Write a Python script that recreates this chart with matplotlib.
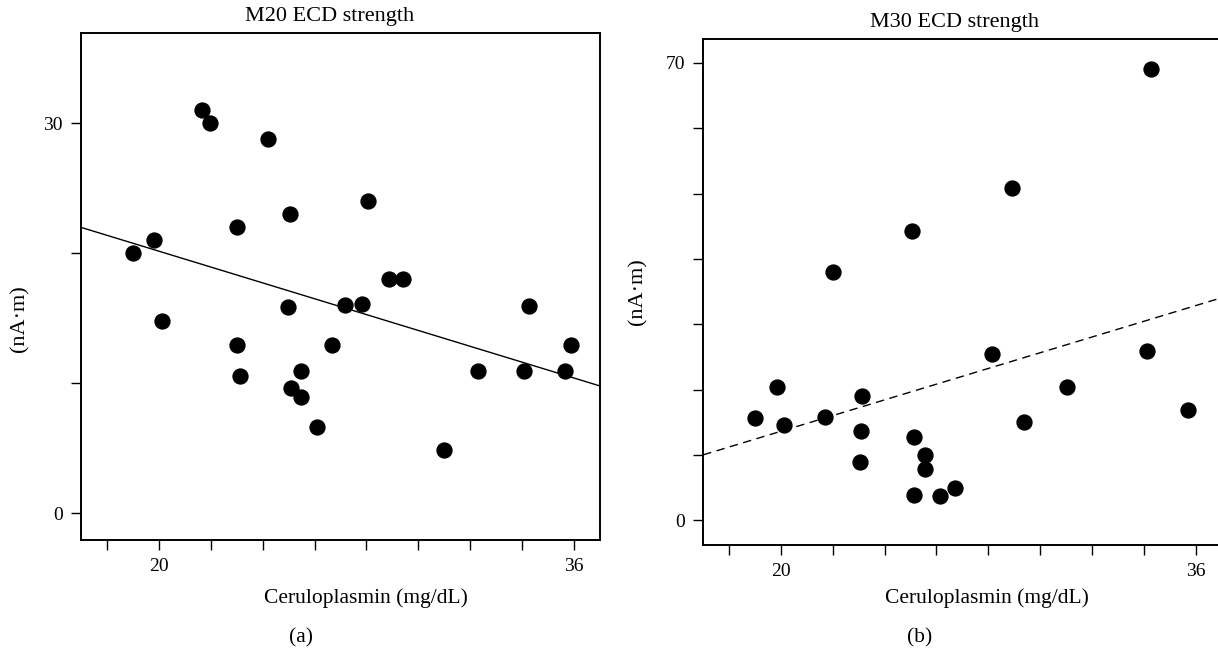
import numpy as np
import matplotlib
matplotlib.use('Agg')
import matplotlib.pyplot as plt

plt.rcParams['font.family'] = ['Liberation Serif', 'DejaVu Serif']

# M20 ECD strength (panel a)
m20_x = [21.68, 21.99, 24.19, 28.07, 25.07, 23.02, 19.81, 19.01, 28.86, 29.42,
         24.98, 27.17, 27.84, 34.28, 20.13, 23.01, 26.69, 35.87, 23.11, 25.49,
         32.29, 34.09, 35.67, 25.09, 25.49, 26.09, 30.99]
m20_y = [31.0, 30.0, 28.8, 24.0, 23.0, 22.0, 21.0, 20.0, 18.0, 18.0,
         15.9, 16.0, 16.1, 15.96, 14.8, 12.96, 12.96, 12.96, 10.55, 10.95,
         10.95, 10.95, 10.95, 9.67, 8.98, 6.62, 4.85]
m20_fit = (-0.61, 32.37)   # slope, intercept

# M30 ECD strength (panel b)
m30_x = [34.29, 28.91, 25.05, 22.02, 28.13, 34.11, 19.85, 31.04, 23.12, 19.01,
         21.71, 20.13, 35.69, 29.36, 23.07, 25.14, 25.56, 23.04, 25.56, 26.71,
         25.14, 26.14]
m30_y = [69.0, 50.8, 44.2, 38.0, 25.4, 25.9, 20.35, 20.35, 19.0, 15.7,
         15.8, 14.6, 16.9, 14.98, 13.66, 12.7, 10.04, 8.87, 7.85, 4.9,
         3.92, 3.72]
m30_fit = (1.202, -10.43)

x_ticks = [18, 20, 22, 24, 26, 28, 30, 32, 34, 36]
x_labels = ['', '20', '', '', '', '', '', '', '', '36']

fig = plt.figure(figsize=(12.18, 6.5), dpi=100)

ax1 = fig.add_axes([0.0665, 0.1692, 0.4261, 0.78])
ax2 = fig.add_axes([0.5774, 0.1615, 0.4255, 0.779])


def style(ax, yticks, ylabels):
    ax.set_xticks(x_ticks)
    ax.set_xticklabels(x_labels)
    ax.set_yticks(yticks)
    ax.set_yticklabels(ylabels)
    ax.tick_params(direction='out', length=7.2, width=1.0, labelsize=14, pad=6)
    for s in ax.spines.values():
        s.set_linewidth(1.4)


# (a)
ax1.scatter(m20_x, m20_y, s=115, color='black', zorder=3)
xx = np.array([17, 37])
ax1.plot(xx, m20_fit[0] * xx + m20_fit[1], color='black', lw=1.0)
ax1.set_xlim(17, 37)
ax1.set_ylim(-2.05, 36.95)
style(ax1, [0, 10, 20, 30], ['0', '', '', '30'])

# (b)
ax2.scatter(m30_x, m30_y, s=115, color='black', zorder=3)
ax2.plot(xx, m30_fit[0] * xx + m30_fit[1], color='black', lw=1.0,
         linestyle=(0, (6, 4)))
ax2.set_xlim(17, 37)
ax2.set_ylim(-3.8, 73.7)
style(ax2, [0, 10, 20, 30, 40, 50, 60, 70], ['0', '', '', '', '', '', '', '70'])

fig.text(330 / 1218, 1 - 16 / 650, 'M20 ECD strength', ha='center', va='center', fontsize=16)
fig.text(954 / 1218, 1 - 22.7 / 650, 'M30 ECD strength', ha='center', va='center', fontsize=16)

fig.text(366 / 1218, 1 - 598 / 650, 'Ceruloplasmin (mg/dL)', ha='center', va='center', fontsize=15.5)
fig.text(987 / 1218, 1 - 598 / 650, 'Ceruloplasmin (mg/dL)', ha='center', va='center', fontsize=15.5)

fig.text(20 / 1218, 1 - 319 / 650, '(nA·m)', ha='center', va='center', rotation=90, fontsize=16)
fig.text(638 / 1218, 1 - 292 / 650, '(nA·m)', ha='center', va='center', rotation=90, fontsize=16)

fig.text(301 / 1218, 1 - 638 / 650, '(a)', ha='center', va='center', fontsize=15.5)
fig.text(920 / 1218, 1 - 638 / 650, '(b)', ha='center', va='center', fontsize=15.5)

fig.savefig('out.png', dpi=100)
